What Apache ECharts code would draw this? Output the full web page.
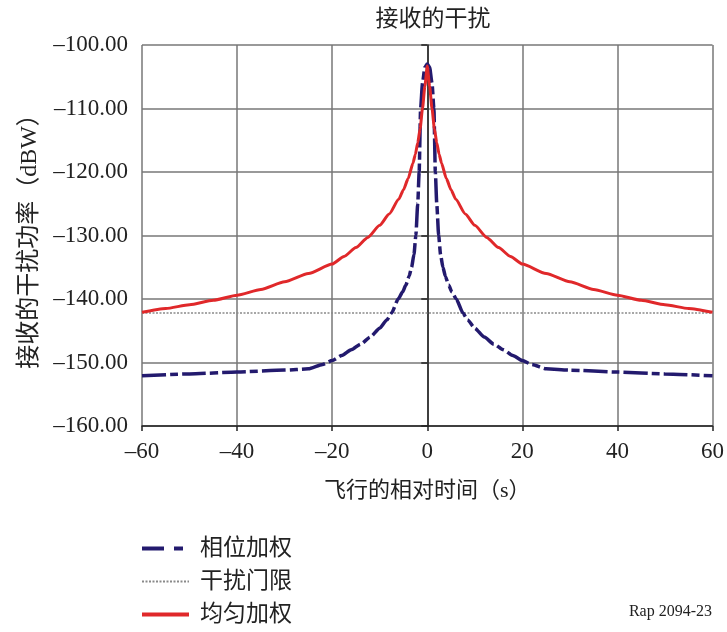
<!DOCTYPE html>
<html>
<head>
<meta charset="utf-8">
<script src="https://cdn.jsdelivr.net/npm/echarts@6/dist/echarts.min.js"></script>
<style>
  html, body { margin: 0; padding: 0; background: #fff; }
  #chart { width: 727px; height: 632px; }
</style>
</head>
<body>
<div id="chart"></div>
<script>
// Relative flight time (s) and received interference power (dBW)
const phaseTime = [-60, -50, -40, -30, -25, -22, -20, -18, -16, -14, -12, -10, -8.5, -7.5, -6.1, -5.2, -4.5, -3.8, -3.3, -2.8, -2.4, -2.0, -1.7, -1.4, -1.0, -0.5, 0,
                   0.5, 1.0, 1.4, 1.7, 2.0, 2.4, 2.8, 3.3, 3.8, 4.5, 5.2, 6.1, 7.5, 8.5, 10, 12, 14, 16, 18, 20, 22, 25, 30, 40, 50, 60];
const phaseWeighted = [-152.1, -151.8, -151.5, -151.2, -151.0, -150.3, -149.7, -148.9, -148.0, -147.1, -146.0, -144.6, -143.3, -142.2, -140.0, -138.9, -137.8, -136.4, -135.0, -133.0, -130.0, -125.0, -120.0, -110.0, -106.0, -103.5, -103.0,
                       -103.5, -106.0, -110.0, -120.0, -125.0, -130.0, -133.0, -135.0, -136.4, -137.8, -138.9, -140.0, -142.2, -143.3, -144.6, -146.0, -147.1, -148.0, -148.9, -149.7, -150.3, -151.0, -151.2, -151.5, -151.8, -152.1];

const uniformTime = [-60, -55, -50, -45, -40, -35, -30, -25, -20, -17.5, -15, -12.5, -10, -8, -6, -5, -4, -3, -2.5, -2, -1.5, -1, -0.5, 0,
                     0.5, 1, 1.5, 2, 2.5, 3, 4, 5, 6, 8, 10, 12.5, 15, 17.5, 20, 25, 30, 35, 40, 45, 50, 55, 60];
const uniformWeighted = [-142.1, -141.5, -140.9, -140.2, -139.4, -138.5, -137.3, -136.0, -134.5, -133.3, -131.9, -130.3, -128.4, -126.6, -124.3, -122.8, -121.0, -118.6, -117.2, -115.4, -113.2, -110.0, -106.5, -103.3,
                         -106.5, -110.0, -113.2, -115.4, -117.2, -118.6, -121.0, -122.8, -124.3, -126.6, -128.4, -130.3, -131.9, -133.3, -134.5, -136.0, -137.3, -138.5, -139.4, -140.2, -140.9, -141.5, -142.1];

const thresholdTime = [-60, 60];
const thresholdLevel = [-142.2, -142.2];

const xTicks = [-60, -40, -20, 0, 20, 40, 60];
const yTicks = [-160, -150, -140, -130, -120, -110, -100];

const seriesNames = ['相位加权', '干扰门限', '均匀加权'];

const BLUE = '#231a6e';
const GREY = '#8a8a8a';
const RED = '#e0282a';

const pairs = (xs, ys) => xs.map((x, i) => [x, ys[i]]);
const dash = s => String(s).replace('-', '\u2013');

const serif = '"Liberation Serif", "DejaVu Serif", "Noto Sans CJK SC", serif';
const cjk = '"Liberation Serif", "Noto Sans CJK SC", sans-serif';

const chart = echarts.init(document.getElementById('chart'), null, { renderer: 'canvas' });

chart.setOption({
  animation: false,
  backgroundColor: '#ffffff',
  title: {
    text: '接收的干扰',
    left: 428,
    top: 3,
    textAlign: 'center',
    textStyle: { fontFamily: cjk, fontSize: 23, fontWeight: 'normal', color: '#222' }
  },
  grid: { left: 142, right: 13, top: 45, bottom: 206, containLabel: false },
  xAxis: {
    type: 'value',
    min: xTicks[0],
    max: xTicks[xTicks.length - 1],
    interval: 20,
    name: '飞行的相对时间（s）',
    nameLocation: 'middle',
    nameGap: 54,
    nameTextStyle: { fontFamily: cjk, fontSize: 22, color: '#222' },
    axisLine: { onZero: false, lineStyle: { color: '#222', width: 1.5 } },
    axisTick: { show: true, length: 5, inside: false, lineStyle: { color: '#222', width: 1.5 } },
    axisLabel: {
      fontFamily: serif, fontSize: 23, color: '#222', margin: 14,
      formatter: v => dash(v)
    },
    splitLine: { show: true, lineStyle: { color: '#777', width: 1.5 } }
  },
  yAxis: {
    type: 'value',
    min: yTicks[0],
    max: yTicks[yTicks.length - 1],
    interval: 10,
    name: '接收的干扰功率（dBW）',
    nameLocation: 'middle',
    nameRotate: 90,
    nameGap: 100,
    nameTextStyle: { fontFamily: cjk, fontSize: 24, color: '#222' },
    axisLine: { show: true, lineStyle: { color: '#222', width: 1.5 } },
    axisTick: { show: true, length: 6, inside: false, lineStyle: { color: '#222', width: 1.5 } },
    axisLabel: {
      fontFamily: serif, fontSize: 23, color: '#222', margin: 14,
      formatter: v => dash(v.toFixed(2))
    },
    splitLine: { show: true, lineStyle: { color: '#777', width: 1.5 } }
  },
  legend: {
    orient: 'vertical',
    left: 140,
    top: 537,
    padding: 0,
    itemWidth: 47,
    itemHeight: 14,
    itemGap: 10,
    data: [
      { name: seriesNames[0], lineStyle: { color: BLUE, width: 4, type: [22, 10, 9, 6] } },
      { name: seriesNames[1], lineStyle: { color: GREY, width: 2, type: [2, 1.5] } },
      { name: seriesNames[2], lineStyle: { color: RED, width: 4, type: 'solid' } }
    ],
    itemStyle: { opacity: 0, color: 'transparent', borderWidth: 0 },
    textStyle: { fontFamily: cjk, fontSize: 23, lineHeight: 22, color: '#222', padding: [0, 0, 0, 6] }
  },
  series: [
    {
      name: seriesNames[0],
      type: 'line',
      data: pairs(phaseTime, phaseWeighted),
      showSymbol: false,
      symbol: 'none',
      smooth: 0.2,
      smoothMonotone: 'x',
      z: 3,
      lineStyle: { color: BLUE, width: 3.5, type: [24, 4, 8, 4] },
      itemStyle: { color: BLUE }
    },
    {
      name: seriesNames[1],
      type: 'line',
      data: pairs(thresholdTime, thresholdLevel),
      showSymbol: false,
      symbol: 'none',
      z: 2,
      lineStyle: { color: GREY, width: 1.5, type: [2, 1.5] },
      itemStyle: { color: GREY }
    },
    {
      name: seriesNames[2],
      type: 'line',
      data: pairs(uniformTime, uniformWeighted),
      showSymbol: false,
      symbol: 'none',
      smooth: 0.2,
      smoothMonotone: 'x',
      z: 4,
      lineStyle: { color: RED, width: 3 },
      itemStyle: { color: RED }
    }
  ],
  graphic: [
    {
      type: 'text',
      right: 15,
      top: 604,
      style: { text: 'Rap 2094-23', font: '16px "Liberation Serif", serif', fill: '#222' }
    }
  ]
});
</script>
</body>
</html>
